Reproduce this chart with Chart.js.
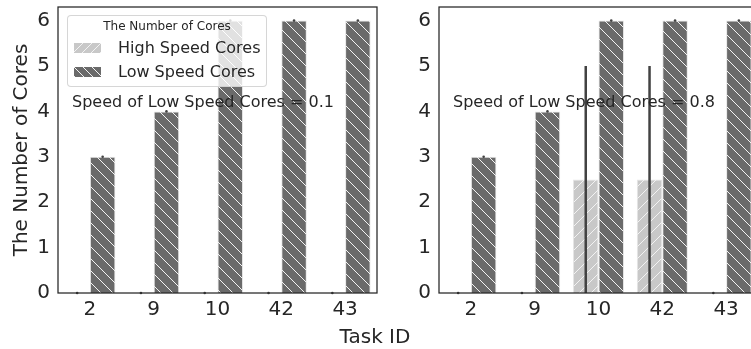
<!DOCTYPE html>
<html><head><meta charset="utf-8">
<script src="https://cdn.jsdelivr.net/npm/chart.js@4/dist/chart.umd.min.js"></script>
<style>
html,body{margin:0;padding:0;background:#fff;overflow:hidden;}
#wrap{position:relative;width:751px;height:349px;overflow:hidden;font-family:"DejaVu Sans",sans-serif;color:#262626;}
#wrap canvas{position:absolute;top:0;}
.t{position:absolute;white-space:nowrap;}
</style></head>
<body>
<div id="wrap">
  <canvas id="c1" width="380" height="349" style="left:0"></canvas>
  <canvas id="c2" width="381" height="349" style="left:380px"></canvas>
  <div class="t" id="n1" style="left:72px;top:92px;font-size:16px;line-height:20px;"></div>
  <div class="t" id="n2" style="left:453px;top:92px;font-size:16px;line-height:20px;"></div>
  <div id="leg" style="position:absolute;left:67px;top:15px;width:200px;height:72px;box-sizing:border-box;background:rgba(255,255,255,0.8);border:1px solid rgba(204,204,204,0.8);border-radius:4px;"></div>
  <div class="t" id="legTitle" style="left:67px;width:200px;text-align:center;top:19px;font-size:12px;line-height:15px;"></div>
  <canvas id="sw1" width="27" height="10" style="left:74px;top:43px;"></canvas>
  <canvas id="sw2" width="27" height="10" style="left:74px;top:67px;"></canvas>
  <div class="t" id="lg1" style="left:118px;top:38px;font-size:16px;line-height:20px;"></div>
  <div class="t" id="lg2" style="left:118px;top:62px;font-size:16px;line-height:20px;"></div>
  <div class="t" id="xlab" style="left:275px;width:200px;text-align:center;top:324px;font-size:20px;line-height:24px;"></div>
</div>
<script>
// ---- data ----
const taskIds = ['2', '9', '10', '42', '43'];
const yTicks = [0, 1, 2, 3, 4, 5, 6];
const seriesNames = ['High Speed Cores', 'Low Speed Cores'];
const legendTitle = 'The Number of Cores';
const yLabel = 'The Number of Cores';
const xLabel = 'Task ID';
const panelNotes = ['Speed of Low Speed Cores = 0.1', 'Speed of Low Speed Cores = 0.8'];

const leftHigh = [0, 0, 0, 0, 0];
const leftLow = [3, 4, 6, 6, 6];
const leftHighCiLo = [0, 0, 0, 0, 0];
const leftHighCiHi = [0, 0, 0, 0, 0];
const leftLowCiLo = [3, 4, 6, 6, 6];
const leftLowCiHi = [3, 4, 6, 6, 6];

const rightHigh = [0, 0, 2.5, 2.5, 0];
const rightLow = [3, 4, 6, 6, 6];
const rightHighCiLo = [0, 0, 0, 0, 0];
const rightHighCiHi = [0, 0, 5, 5, 0];
const rightLowCiLo = [3, 4, 6, 6, 6];
const rightLowCiHi = [3, 4, 6, 6, 6];

// ---- styling ----
const FONT = '"DejaVu Sans", sans-serif';
const TXT = '#262626';
const HIGH_COLOR = '#c8c8c8';
const LOW_COLOR = '#6a6a6a';
const HATCH_COLOR = '#f2f2f2';

function hatch(bg, dir, s) {
  s = s || 12;
  const c = document.createElement('canvas'); c.width = s; c.height = s;
  const x = c.getContext('2d');
  x.fillStyle = bg; x.fillRect(0, 0, s, s);
  x.strokeStyle = HATCH_COLOR; x.lineWidth = 1;
  x.beginPath();
  if (dir === 'back') {
    x.moveTo(-1, -1); x.lineTo(s + 1, s + 1);
    x.moveTo(-1, s - 1); x.lineTo(1, s + 1);
    x.moveTo(s - 1, -1); x.lineTo(s + 1, 1);
  } else {
    x.moveTo(-1, s + 1); x.lineTo(s + 1, -1);
    x.moveTo(-1, 1); x.lineTo(1, -1);
    x.moveTo(s - 1, s + 1); x.lineTo(s + 1, s - 1);
  }
  x.stroke();
  return x.createPattern(c, 'repeat');
}

const errPlugin = {
  id: 'errAndSpines',
  afterDatasetsDraw(chart) {
    const ctx = chart.ctx, ys = chart.scales.y;
    chart.data.datasets.forEach((ds, i) => {
      const meta = chart.getDatasetMeta(i);
      meta.data.forEach((bar, j) => {
        const lo = ys.getPixelForValue(ds.ciLo[j]);
        const hi = ys.getPixelForValue(ds.ciHi[j]);
        ctx.save();
        ctx.strokeStyle = '#424242'; ctx.fillStyle = '#424242'; ctx.lineWidth = 2.5;
        if (Math.abs(lo - hi) < 0.5) {
          ctx.beginPath(); ctx.arc(bar.x, lo, 1.3, 0, Math.PI * 2); ctx.fill();
        } else {
          ctx.beginPath(); ctx.moveTo(bar.x, lo); ctx.lineTo(bar.x, hi); ctx.stroke();
        }
        ctx.restore();
      });
    });
    const a = chart.chartArea;
    ctx.save(); ctx.strokeStyle = TXT; ctx.lineWidth = 1.25;
    ctx.strokeRect(a.left, a.top, a.right - a.left, a.bottom - a.top);
    ctx.restore();
  }
};

function makeChart(id, high, low, hLo, hHi, lLo, lHi, yWidth, showTitle, padRight) {
  return new Chart(document.getElementById(id), {
    type: 'bar',
    data: {
      labels: taskIds,
      datasets: [
        { label: seriesNames[0], data: high, backgroundColor: hatch(HIGH_COLOR, 'fwd'),
          borderColor: '#e6e6e6', borderWidth: 1, categoryPercentage: 0.8, barPercentage: 1.0,
          ciLo: hLo, ciHi: hHi },
        { label: seriesNames[1], data: low, backgroundColor: hatch(LOW_COLOR, 'back'),
          borderColor: '#e6e6e6', borderWidth: 1, categoryPercentage: 0.8, barPercentage: 1.0,
          ciLo: lLo, ciHi: lHi }
      ]
    },
    options: {
      responsive: false, animation: false, devicePixelRatio: 1,
      layout: { padding: { left: 0, right: padRight, top: 7, bottom: 0 } },
      plugins: { legend: { display: false }, tooltip: { enabled: false } },
      scales: {
        x: {
          grid: { display: false, drawTicks: false }, border: { display: false },
          ticks: { color: TXT, font: { family: FONT, size: 20 }, padding: 5, maxRotation: 0 },
          afterFit(s) { s.height = 56; s.paddingLeft = 0; s.paddingRight = 0; }
        },
        y: {
          min: 0, max: 6.3,
          grid: { display: false, drawTicks: false }, border: { display: false },
          ticks: { color: TXT, font: { family: FONT, size: 20 }, padding: 8 },
          afterBuildTicks(s) { s.ticks = yTicks.map(v => ({ value: v })); },
          title: { display: showTitle, text: yLabel, color: TXT, font: { family: FONT, size: 20 }, padding: { top: 10, bottom: 0 } },
          afterFit(s) { s.width = yWidth; s.paddingTop = 0; s.paddingBottom = 0; }
        }
      }
    },
    plugins: [errPlugin]
  });
}

makeChart('c1', leftHigh, leftLow, leftHighCiLo, leftHighCiHi, leftLowCiLo, leftLowCiHi, 58, true, 3);
makeChart('c2', rightHigh, rightLow, rightHighCiLo, rightHighCiHi, rightLowCiLo, rightLowCiHi, 59, false, 3);

document.getElementById('n1').textContent = panelNotes[0];
document.getElementById('n2').textContent = panelNotes[1];
document.getElementById('legTitle').textContent = legendTitle;
document.getElementById('lg1').textContent = seriesNames[0];
document.getElementById('lg2').textContent = seriesNames[1];
document.getElementById('xlab').textContent = xLabel;

function swatch(id, bg, dir) {
  const c = document.getElementById(id).getContext('2d');
  c.fillStyle = hatch(bg, dir, 9);
  c.fillRect(0, 0, 27, 10);
}
swatch('sw1', HIGH_COLOR, 'fwd');
swatch('sw2', LOW_COLOR, 'back');
</script>
</body></html>
